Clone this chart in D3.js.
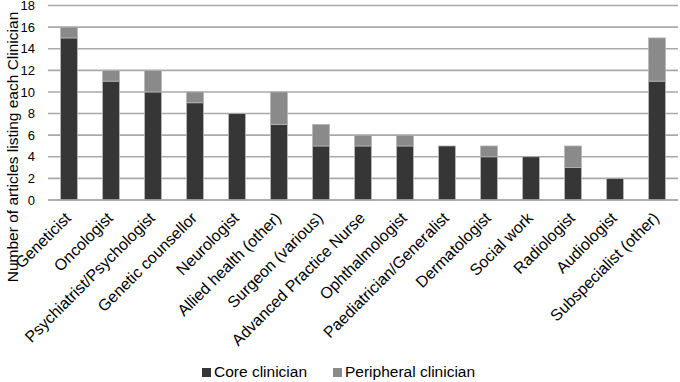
<!DOCTYPE html>
<html>
<head>
<meta charset="utf-8">
<script src="https://cdn.jsdelivr.net/npm/d3@7"></script>
<style>
  body { margin: 0; background: #fff; }
  svg text { font-family: "Liberation Sans", Arial, sans-serif; fill: #000; }
</style>
</head>
<body>
<svg id="chart" width="680" height="382"></svg>
<script>
var categories = ["Geneticist", "Oncologist", "Psychiatrist/Psychologist", "Genetic counsellor",
  "Neurologist", "Allied health (other)", "Surgeon (various)", "Advanced Practice Nurse",
  "Ophthalmologist", "Paediatrician/Generalist", "Dermatologist", "Social work",
  "Radiologist", "Audiologist", "Subspecialist (other)"];
var core = [15, 11, 10, 9, 8, 7, 5, 5, 5, 5, 4, 4, 3, 2, 11];
var peripheral = [1, 1, 2, 1, 0, 3, 2, 1, 1, 0, 1, 0, 2, 0, 4];
var seriesNames = ["Core clinician", "Peripheral clinician"];
var yTicks = [0, 2, 4, 6, 8, 10, 12, 14, 16, 18];

(function() {
  var svg = d3.select("svg#chart");
  var margin = {left: 48, right: 2, top: 5.5, bottom: 182};
  var width = +svg.attr("width");
  var height = +svg.attr("height");

  var x = d3.scaleBand()
    .domain(categories)
    .range([margin.left, width - margin.right])
    .paddingInner(0.6)
    .paddingOuter(0.3);

  var y = d3.scaleLinear()
    .domain([0, 18])
    .range([height - margin.bottom, margin.top]);

  var color = d3.scaleOrdinal().domain(seriesNames).range(["#363636", "#8a8a8a"]);

  // gridlines
  svg.append("g")
    .attr("class", "grid")
    .selectAll("line")
    .data(yTicks)
    .enter().append("line")
    .attr("x1", margin.left)
    .attr("x2", width - margin.right)
    .attr("y1", function(d) { return y(d); })
    .attr("y2", function(d) { return y(d); })
    .style("stroke", "#a9a9a9")
    .style("stroke-width", 1.6);

  var rows = categories.map(function(c, i) {
    return {cat: c, "Core clinician": core[i], "Peripheral clinician": peripheral[i]};
  });
  var stacked = d3.stack().keys(seriesNames)(rows);

  svg.selectAll(".series")
    .data(stacked)
    .enter().append("g")
    .attr("class", "series")
    .style("fill", function(d) { return color(d.key); })
    .selectAll("rect")
    .data(function(d) { return d.filter(function(p) { return p[1] > p[0]; }); })
    .enter().append("rect")
    .attr("x", function(d) { return x(d.data.cat); })
    .attr("width", x.bandwidth())
    .attr("y", function(d) { return y(d[1]); })
    .attr("height", function(d) { return y(d[0]) - y(d[1]); })
    .style("stroke", "#b5b5b5")
    .style("stroke-width", 0.8);

  // y axis labels
  var yAxis = d3.axisLeft(y).tickValues(yTicks).tickSize(0).tickPadding(13);
  var gy = svg.append("g")
    .attr("transform", "translate(" + margin.left + ",0)")
    .call(yAxis);
  gy.select(".domain").remove();
  gy.selectAll("text").style("font-size", "13px").style("font-family", "Liberation Sans, Arial, sans-serif");

  // x axis labels
  var xAxis = d3.axisBottom(x).tickSize(0).tickPadding(0);
  var gx = svg.append("g")
    .attr("transform", "translate(0," + y(0) + ")")
    .call(xAxis);
  gx.select(".domain").remove();
  gx.selectAll("text")
    .style("font-size", "16px")
    .style("font-family", "Liberation Sans, Arial, sans-serif")
    .attr("text-anchor", "end")
    .attr("dy", null)
    .attr("y", 0)
    .attr("transform", "translate(3,19) rotate(-45)");

  svg.append("line")
    .attr("x1", margin.left)
    .attr("x2", width - margin.right)
    .attr("y1", y(0))
    .attr("y2", y(0))
    .style("stroke", "#a9a9a9")
    .style("stroke-width", 1.6);

  // y title
  svg.append("text")
    .attr("transform", "translate(18," + 147 + ") rotate(-90)")
    .attr("text-anchor", "middle")
    .style("font-size", "15.5px")
    .text("Number of articles listing each Clinician");

  // legend
  var legend = svg.append("g").attr("class", "legend");
  var lx = [202, 333];
  seriesNames.forEach(function(s, i) {
    legend.append("rect")
      .attr("x", lx[i])
      .attr("y", 368)
      .attr("width", 9)
      .attr("height", 9)
      .style("fill", color(s));
    legend.append("text")
      .attr("x", lx[i] + 12)
      .attr("y", 377)
      .style("font-size", "15.5px")
      .text(s);
  });
})();
</script>
</body>
</html>
